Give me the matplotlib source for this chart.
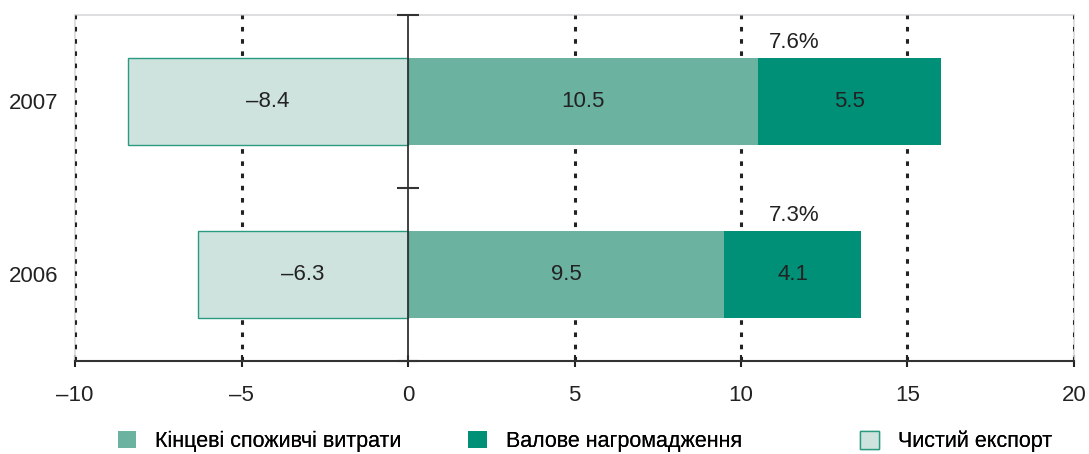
import numpy as np
import matplotlib.pyplot as plt

plt.rcParams['font.family'] = ['Liberation Sans', 'DejaVu Sans']

years = ['2006', '2007']
consumption = [9.5, 10.5]
accumulation = [4.1, 5.5]
net_export = [-6.3, -8.4]
growth = ['7.3%', '7.6%']

c_cons = '#6bb3a0'
c_acc = '#009077'
c_exp = '#cfe3de'

fs = 16

fig = plt.figure(figsize=(10.89, 4.54), dpi=100)
ax = fig.add_axes([0.0689, 0.205, 0.9173, 0.762])

y = np.arange(len(years))
h = 0.5

b1 = ax.barh(y, consumption, height=h, color=c_cons, label='Кінцеві споживчі витрати', zorder=3)
b2 = ax.barh(y, accumulation, left=consumption, height=h, color=c_acc,
             label='Валове нагромадження', zorder=3)
b3 = ax.barh(y, net_export, height=h, color=c_exp, edgecolor='#2a9a80', linewidth=1,
             label='Чистий експорт', zorder=3)

for i in range(len(years)):
    ax.text(consumption[i] / 2, y[i], f'{consumption[i]:.1f}', ha='center', va='center',
            fontsize=fs, color='#222222', zorder=4)
    ax.text(consumption[i] + accumulation[i] / 2, y[i], f'{accumulation[i]:.1f}',
            ha='center', va='center', fontsize=fs, color='#222222', zorder=4)
    ax.text(net_export[i] / 2, y[i], f'{net_export[i]:.1f}'.replace('-', '–'),
            ha='center', va='center', fontsize=fs, color='#222222', zorder=4)
    ax.text(11.6, y[i] + h / 2 + 0.03, growth[i], ha='center', va='bottom',
            fontsize=fs, color='#222222', zorder=4)

ax.set_xlim(-10, 20)
ax.set_ylim(-0.5, 1.5)
xt = np.arange(-10, 21, 5)
ax.set_xticks(xt)
ax.set_xticklabels([str(v).replace('-', '–') for v in xt], fontsize=fs)
ax.tick_params(axis='x', direction='inout', length=9, width=1.5, pad=13, colors='#222222')
ax.set_yticks(y)
ax.set_yticklabels(years, fontsize=fs)
ax.tick_params(axis='y', length=0, pad=12, colors='#222222')

for s in ['top', 'left', 'right']:
    ax.spines[s].set_color('#d8d8dc')
    ax.spines[s].set_linewidth(1.2)
ax.spines['bottom'].set_color('#333333')
ax.spines['bottom'].set_linewidth(1.5)
ax.spines['bottom'].set_zorder(6)

for v in xt:
    if v != 0:
        ax.axvline(v, color='#222222', linestyle=(0, (1.5, 2.5)), linewidth=2.2, zorder=2.6)
ax.axvline(0, color='#333333', linewidth=1.3, zorder=5)
ax.plot(np.zeros(3), [-0.5, 0.5, 1.5], marker='_', markersize=16, mew=1.5,
        linestyle='none', color='#333333', zorder=5, clip_on=False)

legend_x = [0.108, 0.430, 0.790]
for handle, lx in zip([b1, b2, b3], legend_x):
    leg = fig.legend(handles=[handle], loc='center left', frameon=False, fontsize=15.5,
                     bbox_to_anchor=(lx, 0.027), handlelength=0.85, handleheight=0.85,
                     handletextpad=0.9, borderpad=0, borderaxespad=0)
    fig.add_artist(leg)

fig.savefig('out.png', dpi=100)
